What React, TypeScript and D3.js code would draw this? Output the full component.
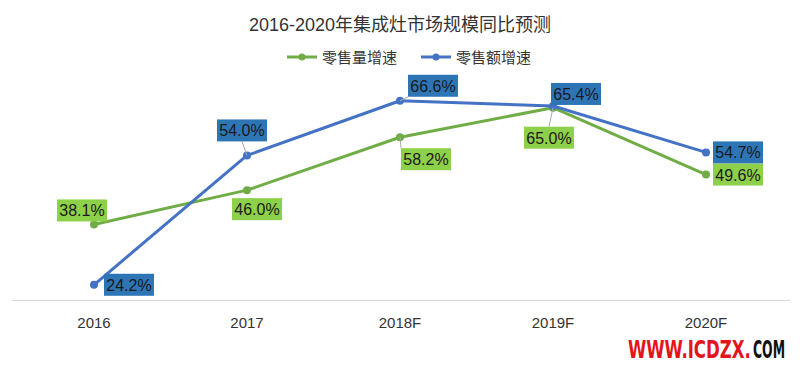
import { useLayoutEffect, useRef } from 'react';
import * as d3 from 'd3';

const years = ['2016', '2017', '2018F', '2019F', '2020F'];
const volumeGrowth = [38.1, 46.0, 58.2, 65.0, 49.6];
const valueGrowth = [24.2, 54.0, 66.6, 65.4, 54.7];
// label placement relative to each point: [dx, dy] of box centre, with leader line flag
const volumeLabelOffsets: [number, number, boolean][] = [
  [-12, -14, false],
  [10, 19, false],
  [26, 22, true],
  [-4, 30, true],
  [32, 0, false],
];
const valueLabelOffsets: [number, number, boolean][] = [
  [35, 0, false],
  [-5, -25, true],
  [33, -15, true],
  [23, -12, false],
  [32, 0, false],
];

const GREEN = '#70AD47';
const BLUE = '#4472C4';
const GREEN_BOX = '#8DD04A';
const BLUE_BOX = '#2E75B6';
const FONT = 'Arial, "Liberation Sans", "Noto Sans CJK SC", sans-serif';
const MARK_FONT = '"Liberation Sans Narrow", "DejaVu Sans Condensed", Arial, sans-serif';

// squeeze a text horizontally so it spans exactly `w` px starting at x0
function FitText({ x0, y0, w, fill, children }: { x0: number; y0: number; w: number; fill: string; children: string }) {
  const ref = useRef<SVGTextElement>(null);
  const gRef = useRef<SVGGElement>(null);
  useLayoutEffect(() => {
    if (!ref.current || !gRef.current) return;
    const natural = ref.current.getComputedTextLength() || w;
    gRef.current.setAttribute('transform', `translate(${x0},${y0}) scale(${w / natural},1)`);
  }, [x0, y0, w]);
  return (
    <g ref={gRef} transform={`translate(${x0},${y0})`}>
      <text ref={ref} x={0} y={0} fontSize={24} fontWeight={700} fill={fill} fontFamily={MARK_FONT}>
        {children}
      </text>
    </g>
  );
}

export default function App() {
  const width = 800;
  const height = 371;

  const x = d3.scalePoint<string>().domain(years).range([94, 706]);
  const y = d3.scaleLinear().domain([20, 70]).range([303, 86]);

  const line = d3
    .line<number>()
    .x((_, i) => x(years[i]) ?? 0)
    .y((d) => y(d));

  const series = [
    { name: '零售量增速', values: volumeGrowth, color: GREEN, box: GREEN_BOX, offsets: volumeLabelOffsets },
    { name: '零售额增速', values: valueGrowth, color: BLUE, box: BLUE_BOX, offsets: valueLabelOffsets },
  ];

  const boxW = 50;
  const boxH = 22;

  return (
    <svg width={width} height={height} style={{ position: 'absolute', left: 0, top: 0, background: '#fff' }}>
      <rect width={width} height={height} fill="#fff" />
      <text x={400} y={31} textAnchor="middle" fontSize={18} fill="#333" fontFamily={FONT}>
        2016-2020年集成灶市场规模同比预测
      </text>

      {/* legend */}
      {series.map((s, i) => {
        const lx = i === 0 ? 287 : 421;
        return (
          <g key={s.name} transform={`translate(${lx},57)`}>
            <line x1={0} x2={30} y1={0} y2={0} stroke={s.color} strokeWidth={3} />
            <circle cx={15} cy={0} r={3.5} fill={s.color} />
            <text x={35} y={5.5} fontSize={15} fill="#333" fontFamily={FONT}>
              {s.name}
            </text>
          </g>
        );
      })}

      {/* x axis */}
      <line x1={12} x2={790} y1={300.5} y2={300.5} stroke="#d9d9d9" strokeWidth={1} />
      {years.map((yr) => (
        <text key={yr} x={x(yr)} y={328} textAnchor="middle" fontSize={15} fill="#333" fontFamily={FONT}>
          {yr}
        </text>
      ))}

      {series.map((s) => (
        <g key={s.name}>
          <path d={line(s.values) ?? undefined} fill="none" stroke={s.color} strokeWidth={3} strokeLinejoin="round" />
          {s.values.map((v, i) => (
            <circle key={i} cx={x(years[i])} cy={y(v)} r={4} fill={s.color} />
          ))}
        </g>
      ))}

      {series.map((s) =>
        s.values.map((v, i) => {
          const px = x(years[i]) ?? 0;
          const py = y(v);
          const [dx, dy, leader] = s.offsets[i];
          const cx = px + dx;
          const cy = py + dy;
          return (
            <g key={s.name + i}>
              {leader && (
                <line x1={px} y1={py} x2={cx + (dx > 0 ? -boxW / 2 : 0)} y2={cy + (dy > 0 ? -boxH / 2 : boxH / 2)} stroke="#aaa" strokeWidth={1} />
              )}
              <rect x={cx - boxW / 2} y={cy - boxH / 2} width={boxW} height={boxH} fill={s.box} />
              <text x={cx} y={cy + 6} textAnchor="middle" fontSize={16} fill="#1a1a1a" fontFamily={FONT}>
                {v.toFixed(1)}%
              </text>
            </g>
          );
        }),
      )}

      {/* watermark */}
      <FitText x0={628} y0={358} w={123} fill="#e4141b">WWW.ICDZX.</FitText>
      <FitText x0={753} y0={358} w={32} fill="#111">COM</FitText>
    </svg>
  );
}
